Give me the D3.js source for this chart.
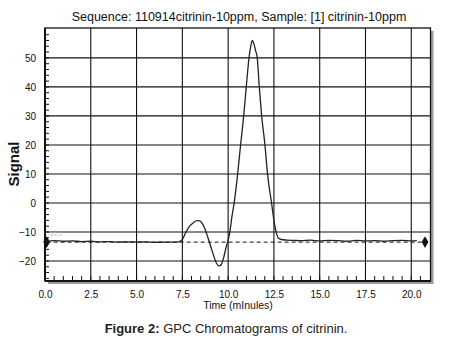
<!DOCTYPE html>
<html>
<head>
<meta charset="utf-8">
<script src="https://cdn.jsdelivr.net/npm/d3@7"></script>
<style>
  body { margin: 0; background: #fff; }
  text { font-family: "Liberation Sans", Arial, sans-serif; }
</style>
</head>
<body>
<div id="chart"></div>
<script>
// chromatogram points: time (min), signal
const time = [0.05, 0.5, 1.0, 1.5, 2.0, 2.5, 3.0, 3.5, 4.0, 4.5, 5.0, 5.5, 6.0, 6.5, 7.0, 7.3,
  7.5, 7.7, 7.9, 8.1, 8.3, 8.45, 8.6, 8.75, 8.9, 9.05, 9.2, 9.35, 9.5, 9.62, 9.75, 9.88,
  10.0, 10.1, 10.2, 10.33, 10.52, 10.68, 10.85, 10.99, 11.14, 11.25, 11.32, 11.4, 11.5, 11.59,
  11.7, 11.83, 12.01, 12.15, 12.37, 12.5, 12.62, 12.75, 12.9, 13.2, 13.6, 14.0, 14.5, 15.0,
  15.5, 16.0, 16.5, 17.0, 17.5, 18.0, 18.5, 19.0, 19.5, 20.0, 20.3];
const signal = [-13.3, -13.0, -13.2, -13.1, -13.3, -13.2, -13.4, -13.3, -13.5, -13.4, -13.5, -13.4, -13.6, -13.5, -13.5, -13.4,
  -12.6, -10.0, -8.0, -6.8, -6.1, -6.2, -7.2, -9.2, -12.0, -15.0, -18.0, -20.6, -21.7, -21.3, -19.0, -15.5,
  -12.8, -9.8, -5.0, 0, 10, 20, 30, 40, 50, 54.5, 56, 55, 52.5, 50,
  40, 30, 20, 10, 0, -6, -10, -12.2, -12.6, -12.8, -12.9, -13.0, -12.8, -13.1,
  -12.9, -13.0, -13.2, -12.9, -13.1, -13.0, -13.2, -13.0, -12.9, -13.1, -13.0];
const baseline = -13.5;
const markerTimes = [0.09, 20.75];
const xTicks = [0, 2.5, 5, 7.5, 10, 12.5, 15, 17.5, 20];
const yTicks = [-20, -10, 0, 10, 20, 30, 40, 50];

const W = 454, H = 346;
const L = 45, R = 430.5, T = 28, B = 281;

const svg = d3.select("#chart").append("svg").attr("width", W).attr("height", H);

const x = d3.scaleLinear().domain([0, 21.05]).range([L, R]);
const y = d3.scaleLinear().domain([-26.9, 60.3]).range([B, T]);

// frame shadow
svg.append("rect").attr("x", L + 3).attr("y", T + 3).attr("width", R - L).attr("height", B - T)
  .attr("fill", "#9a9a9a");
svg.append("rect").attr("x", L).attr("y", T).attr("width", R - L).attr("height", B - T)
  .attr("fill", "#fff");

// grid
svg.append("g").selectAll("line").data(xTicks.filter(d => d > 0)).enter().append("line")
  .attr("x1", d => x(d)).attr("x2", d => x(d)).attr("y1", T).attr("y2", B)
  .attr("stroke", "#111").attr("stroke-width", 1.1);
svg.append("g").selectAll("line").data(yTicks).enter().append("line")
  .attr("x1", L).attr("x2", R).attr("y1", d => y(d)).attr("y2", d => y(d))
  .attr("stroke", "#111").attr("stroke-width", 1.1);

// minor ticks pointing inward
const yMinor = d3.range(-26, 60, 2);
svg.append("g").selectAll("line").data(yMinor).enter().append("line")
  .attr("x1", L).attr("x2", L + 4).attr("y1", d => y(d)).attr("y2", d => y(d))
  .attr("stroke", "#111");
const xMinor = d3.range(0.5, 21, 0.5);
svg.append("g").selectAll("line").data(xMinor).enter().append("line")
  .attr("x1", d => x(d)).attr("x2", d => x(d)).attr("y1", B).attr("y2", B - 5)
  .attr("stroke", "#111");

// frame
svg.append("rect").attr("x", L).attr("y", T).attr("width", R - L).attr("height", B - T)
  .attr("fill", "none").attr("stroke", "#111").attr("stroke-width", 1.3);
svg.append("line").attr("x1", L).attr("x2", L).attr("y1", T).attr("y2", B)
  .attr("stroke", "#111").attr("stroke-width", 2);
svg.append("line").attr("x1", L).attr("x2", R).attr("y1", B).attr("y2", B)
  .attr("stroke", "#111").attr("stroke-width", 2);

// axes labels via d3 axes (no domain/tick lines, only text)
const xAxis = svg.append("g").attr("transform", `translate(0,${B})`)
  .call(d3.axisBottom(x).tickValues(xTicks).tickFormat(d3.format(".1f")).tickSize(0).tickPadding(10));
const yAxis = svg.append("g").attr("transform", `translate(${L},0)`)
  .call(d3.axisLeft(y).tickValues(yTicks).tickSize(0).tickPadding(9));
[xAxis, yAxis].forEach(a => {
  a.select(".domain").remove();
  a.selectAll("text").attr("font-family", "'Liberation Sans', Arial, sans-serif")
    .attr("font-size", 10).attr("fill", "#111");
});

// baseline dashed + end markers
svg.append("line")
  .attr("x1", x(markerTimes[0])).attr("x2", x(markerTimes[1]))
  .attr("y1", y(baseline)).attr("y2", y(baseline))
  .attr("stroke", "#111").attr("stroke-dasharray", "4,3");
svg.append("g").selectAll("path").data(markerTimes).enter().append("path")
  .attr("d", d3.symbol(d3.symbolDiamond, 40))
  .attr("transform", d => `translate(${x(d)},${y(baseline)})`)
  .attr("fill", "#111");
svg.append("text").attr("x", x(0.55)).attr("y", y(baseline) - 6)
  .attr("font-size", 6).attr("fill", "#bbb").attr("text-anchor", "middle").text("-13.5");

// signal
const pts = time.map((t, i) => [t, signal[i]]);
svg.append("path").datum(pts)
  .attr("d", d3.line().x(d => x(d[0])).y(d => y(d[1])).curve(d3.curveMonotoneX))
  .attr("fill", "none").attr("stroke", "#222").attr("stroke-width", 1.3);

// texts
svg.append("text").attr("x", 239).attr("y", 21).attr("text-anchor", "middle")
  .attr("font-size", 12.5).attr("fill", "#111")
  .text("Sequence: 110914citrinin-10ppm, Sample: [1] citrinin-10ppm");
svg.append("text").attr("transform", "translate(19,164) rotate(-90)").attr("text-anchor", "middle")
  .attr("font-size", 15).attr("font-weight", "bold").attr("fill", "#111").text("Signal");
svg.append("text").attr("x", 238).attr("y", 309).attr("text-anchor", "middle")
  .attr("font-size", 10.5).attr("fill", "#111").text("Time (mInules)");
const cap = svg.append("text").attr("x", 226).attr("y", 333).attr("text-anchor", "middle")
  .attr("font-size", 13).attr("fill", "#222");
cap.append("tspan").attr("font-weight", "bold").text("Figure 2:");
cap.append("tspan").text(" GPC Chromatograms of citrinin.");
</script>
</body>
</html>
